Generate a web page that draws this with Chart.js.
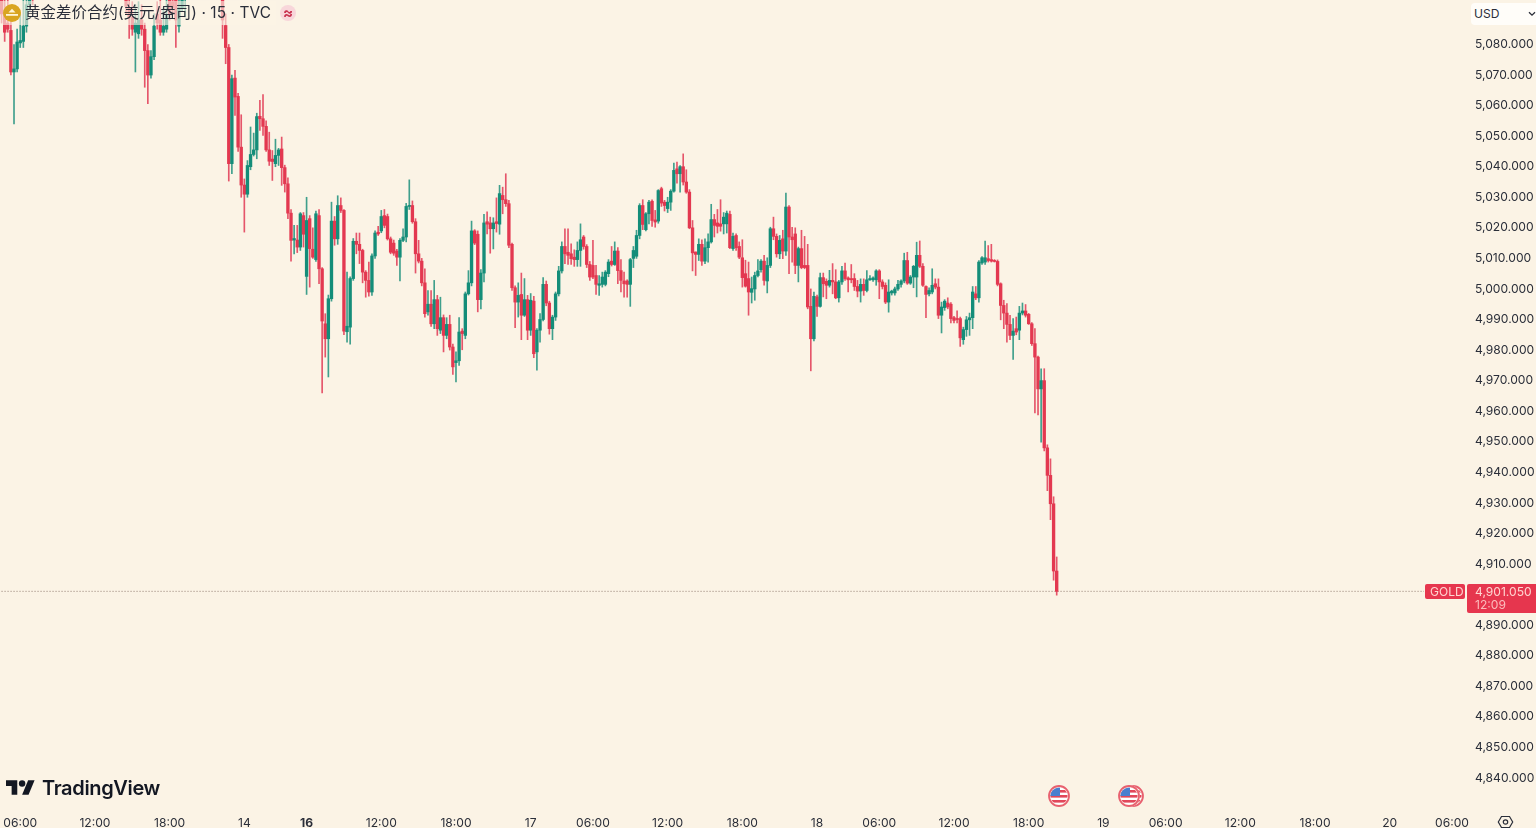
<!DOCTYPE html>
<html lang="zh">
<head>
<meta charset="utf-8">
<title>黄金差价合约(美元/盎司)</title>
<script src="https://cdn.jsdelivr.net/npm/chart.js@4"></script>
<style>
html,body{margin:0;padding:0;background:#fbf3e5;width:1536px;height:828px;overflow:hidden}
#wrap{position:relative;width:1536px;height:828px;font-family:Inter,"Noto Sans CJK SC",sans-serif}
canvas{position:absolute;left:0;top:0;filter:blur(.35px)}
.ov{position:absolute;white-space:nowrap}
#hdrbg{left:0;top:1px;width:276px;height:24px;background:rgba(251,243,229,.62)}
#title{left:25px;top:3px;font-size:15.4px;line-height:20px;color:#2a2e39;font-family:Inter,"Noto Sans CJK SC",sans-serif;letter-spacing:.1px}
#wave{left:280px;top:5px;width:16px;height:16px;border-radius:50%;background:#f8d6da;color:#c9324f;font-size:15px;line-height:16px;text-align:center;font-weight:700}
#usd{left:1471px;top:3px;width:65px;height:22px;background:#fffdf9;border-radius:4px 0 0 4px}
#usdt{left:1474px;top:6px;font-size:12.1px;line-height:16px;color:#2a2e39}
#brand{left:42px;top:775px;font-size:20px;line-height:26px;font-weight:600;color:#131722;letter-spacing:-.35px}
</style>
</head>
<body>
<div id="wrap">
<canvas id="c" width="1536" height="828"></canvas>
<div class="ov" id="hdrbg"></div>
<svg class="ov" style="left:3px;top:4px" width="18" height="18" viewBox="0 0 18 18"><circle cx="9" cy="9" r="9" fill="#d9a520"/><path d="M5.5 8.5 9 4.8l3.5 3.7z" fill="#fff6d8"/><rect x="3" y="10" width="12" height="1.8" fill="#fff6d8"/></svg>
<div class="ov" id="title">黄金差价合约(美元/盎司) · 15 · TVC</div>
<div class="ov" id="wave">≈</div>
<div class="ov" id="usd"></div>
<div class="ov" id="usdt">USD</div>
<svg class="ov" style="left:1528px;top:11px" width="8" height="6" viewBox="0 0 8 6"><path d="M1 1.2 4 4.2 7 1.2" fill="none" stroke="#2a2e39" stroke-width="1.3"/></svg>
<svg class="ov" style="left:6px;top:780px" width="29" height="15" viewBox="0 4 36 18"><path d="M14 22H7V11H0V4h14v18z" fill="#131722"/><circle cx="20" cy="8" r="4" fill="#131722"/><path d="M28 22h-8l7.5-18h8L28 22z" fill="#131722"/></svg>
<div class="ov" id="brand">TradingView</div>
<svg class="ov" style="left:1046px;top:783px" width="100" height="26" viewBox="0 0 100 26">
<defs><clipPath id="fc"><circle cx="0" cy="0" r="8.6"/></clipPath>
<g id="flag"><circle r="11" fill="#fbf3e5"/><circle r="10" fill="#fbf3e5" stroke="#e8606f" stroke-width="1.8"/><g clip-path="url(#fc)"><rect x="-9" y="-9" width="18" height="18" fill="#fff"/><rect x="-9" y="-1" width="18" height="2.6" fill="#e2475a"/><rect x="-9" y="4" width="18" height="2.6" fill="#e2475a"/><rect x="-9" y="-6" width="18" height="2.6" fill="#e2475a"/><rect x="-9" y="-9" width="10" height="9" fill="#4a7fd0"/></g></g></defs>
<use href="#flag" x="87" y="13"/><use href="#flag" x="83" y="13"/><use href="#flag" x="13" y="13"/>
</svg>
<svg class="ov" style="left:1497px;top:815px" width="17" height="13" viewBox="0 0 17 13"><path d="M4.5 1.5h8l3.2 5.5-3.2 5.5h-8L1.3 7z" fill="none" stroke="#2a2e39" stroke-width="1.2"/><circle cx="8.5" cy="7" r="2.2" fill="none" stroke="#2a2e39" stroke-width="1.2"/></svg>
</div>
<script>
const opens=[
5095,5090,5087,5084.6,5071,5072,5080.5,5081,5086,5093,
5097,5096,5099,5103,5101,5106,5109,5107,5112,5115,
5113,5110,5114,5118,5116,5112,5115,5119,5117,5113,
5110,5112,5108,5111,5114,5110,5107,5109,5105,5102,
5098,5092,5089,5084,5083.5,5088,5085,5078,5070,5076,
5090,5088,5084,5085,5097,5094,5096,5086,5092,5097,
5099,5102,5105,5103,5106,5110,5108,5111,5114,5112,
5108,5100,5086.2,5079,5041,5069,5063,5046.4,5034,5031,
5040,5044,5045.5,5056.5,5055.7,5053.2,5045.5,5042.5,5041,5043.7,
5045.8,5039.7,5034.4,5024.8,5016,5016,5013.7,5024,5004.1,5023,
5013,5009.6,5024,5006.6,4988.6,4983.7,4996.8,5022.2,5016.4,5027.3,
5025.7,4986,4987.5,5003.4,5015.6,5014.6,5012.6,5005.5,5002.8,4999,
5010.8,5018.6,5019,5024,5023.7,5016.4,5015,5012.4,5010.4,5015.9,
5017,5027,5027.3,5022,5011.5,5009.1,5002,4992.5,4995,4988.6,
4996.5,4986.5,4990.6,4984.8,4988.4,4981,4975.9,4976.5,4986.2,4984.8,
4998.4,5002,5019,5017.9,4996.5,5005.2,5022,5021.6,5019.7,5022,
5021.2,5030.6,5029.2,5027.9,5014.6,5000.4,4995.7,4998.2,4991.4,4996.5,
4986.5,4996,4979.4,4986.5,4990,5001.5,4995.4,4987,4990.8,4998.4,
5005.9,5013.9,5012,5011.5,5010.4,5009.6,5012.6,5017,5013.9,5008,
5007.7,5004.4,5001.2,5001.5,5001.5,5005,5009.1,5008,5012.4,5006,
5002.6,5002.6,5001.5,5010,5010.7,5017.5,5027.3,5019.4,5024.6,5028.7,
5022.6,5022.2,5032.8,5028.4,5026.3,5028.4,5032,5039.3,5037.7,5040,
5035,5031.7,5020,5012.1,5011.3,5014.6,5009.1,5013.5,5015.4,5022.7,
5021.6,5021.3,5021.3,5021.3,5024.4,5013.2,5017.5,5013.9,5010.2,5005,
5003.4,4998.9,5000,5004.4,5006.3,5009.1,5002.6,5007.7,5019.7,5017.2,
5011.5,5016.4,5012.4,5026.8,5017,5018,5007.7,5013.2,5007.7,5007.7,
4994.3,4983.7,4997.4,4994.3,5003.7,5002.5,5001.2,5002.8,5002.3,4997.1,
5002.3,5005.9,5003.6,5003.4,5003.4,5000.8,4999.3,5001.5,4999.5,5003,
5003,5003,5005.9,5002.3,5001.2,4995.7,4998.7,4998.7,5000,5001.5,
5002.6,5009.3,5001.9,5003.9,5003.9,5011,5007.4,5000.8,4998.4,4999,
5001.7,5000.6,4991.4,4993.9,4995.4,4995,4990.6,4990.3,4990.3,4983.4,
4986.7,4989.9,4990.6,4998.4,4997.1,5008.5,5008.8,5009.9,5009.6,5009.3,
5009,5001.7,4994.6,4992.1,4988.4,4984.8,4987,4986.5,4992.1,4992.8,
4991.7,4988.6,4982.1,4977.7,4967.3,4970,4948,4939,4929.7,4907.7];
const closes=[
5090,5084,5085,5071,5072,5080.8,5081.3,5086,5093,5097,
5096,5099,5103,5101,5106,5109,5107,5112,5115,5113,
5110,5114,5118,5116,5112,5115,5119,5117,5113,5110,
5112,5108,5111,5114,5110,5107,5109,5105,5102,5098,
5092.5,5089,5085,5087,5088,5085,5078,5070,5076,5086,
5087,5084,5086,5089.5,5090,5092,5088,5092,5097,5099,
5102,5105,5103,5106,5110,5108,5111,5114,5112,5108,
5100,5088,5079,5041,5068.8,5062.8,5046.4,5034,5031,5040.4,
5044,5045.5,5056.4,5055.7,5053.2,5045.5,5041.8,5041.7,5043.7,5045.5,
5039.7,5034.4,5024.8,5015.9,5016.5,5013.7,5024.6,5017.9,5022.4,5013.2,
5010.4,5024.6,5006.6,4989.5,4983.7,4996.8,5022.2,5016.4,5027.3,5025.7,
4986.2,4987.8,5003.4,5015.6,5014.6,5012.6,5005.5,5002.8,4999,5010.8,
5018.3,5018,5023.7,5020.8,5016.4,5012,5011.7,5010.4,5015.9,5017,
5027,5027.3,5022,5011.5,5009.1,5002,4991.9,4995,4988.6,4996.5,
4987,4990.6,4984.8,4988.4,4981,4974.5,4976.5,4985.9,4985.4,4998.4,
5002,5019,5015,4996.5,5005.2,5021.6,5021.2,5019.7,5021.6,5021.4,
5031.2,5029.2,5027.9,5014.3,5000.4,4995.7,4997.9,4991.4,4996.5,4986.5,
4996.3,4978.8,4986.5,4990,5001.5,4995.4,4987,4990.8,4998.4,5005.9,
5013.9,5011.5,5011,5009.9,5009.6,5012.6,5016.1,5013.9,5008,5003.9,
5003.9,5001.5,5001.7,5003.9,5005.5,5008.8,5008,5012.4,5006,5002.8,
5001.7,5001.5,5009.6,5012.6,5017.5,5027.3,5021.1,5024.6,5028.4,5022.4,
5021.9,5032.2,5028.1,5027.3,5028.4,5032,5038.8,5037.7,5040,5035,
5031.7,5020,5011.8,5011.3,5014.6,5009.1,5013.5,5015.4,5022.7,5020.8,
5020.5,5020.5,5023.5,5024.8,5013.5,5017.2,5013.5,5010.4,5003.7,5000.9,
4999,5000.1,5004.4,5005.9,5009.1,5002.8,5007.7,5019.7,5017.2,5011.5,
5015.9,5012.4,5026.8,5017,5016.1,5007.7,5013.2,5007,5007,4994.1,
4983.7,4997.6,4994.3,5003.7,5001.7,5001.2,5002.8,5002.3,4997.1,5002.3,
5005.9,5003.4,5003,5003,5000.8,4999.3,5001.5,4999.5,5003,5003.4,
5003.6,5005.9,5002.3,5000.8,4995.7,4999,4999.3,5000,5001.5,5002.6,
5009.3,5001.9,5003.9,5007.4,5011,5007.4,5001.2,4998.2,4999.5,5001.2,
5000.6,4991.4,4994.1,4996,4994.1,4990.3,4989.7,4990,4984,4986.7,
4989.9,4990.6,4999,4997.1,5008.8,5010.2,5010.2,5009.3,5009.1,5009,
5001.5,4994.6,4992.1,4988.4,4984.8,4986.2,4985.9,4992.1,4992.8,4991.4,
4988.6,4982.1,4977.7,4967.3,4970,4948,4939,4929.7,4907.7,4901.05];
const highs=[
5102,5096,5097,5088,5080,5085,5090,5095,5098,5100,
5101,5102,5106,5105,5109,5112,5111,5115,5118,5117,
5116,5116,5120,5121,5118,5116,5121,5122,5119,5115,
5114,5114,5113,5116,5116,5112,5111,5111,5107,5104,
5103,5096,5094,5093,5094,5093,5087,5080,5078,5090,
5094,5096,5092,5097,5100,5098,5100,5097,5103,5104,
5104,5107,5108,5108,5112,5112,5113,5116,5116,5114,
5110,5104,5090,5080,5070,5071.5,5064,5057,5036,5042,
5053,5051,5057.5,5061.7,5063.6,5055,5051.3,5045.3,5049,5046,
5049.7,5040.5,5036.4,5026,5020.8,5020.8,5025,5025,5030,5024,
5020,5025.5,5026,5007,4991.9,4998,5028.4,5023.7,5030.5,5029.8,
5026,5005.5,5004,5016.5,5018.3,5018.3,5013,5006,5008.8,5011.5,
5019,5020.5,5025.7,5026,5024.5,5017,5016,5013,5016.5,5019.7,
5028,5035.7,5028.8,5023,5015.9,5010,5006.6,4999.5,4999.5,5002.8,
4997.9,4997.3,4991.5,4990.6,4991.4,4982,4979.4,4990.6,4987,4999,
5006,5022.2,5019.4,5019,5006.3,5024.4,5025.2,5023.5,5023.3,5029.8,
5033.9,5033.3,5037.7,5029,5015,5001,5002,5005.2,5003.4,4997.9,
4998.5,4997.6,4987,4991.9,5003.7,5002.6,4996,4991.4,4999,5007.4,
5015.4,5019.7,5019.7,5014.8,5012.8,5015.4,5021.3,5017.5,5014.5,5009,
5015.9,5007.7,5004.4,5005.5,5006,5009.6,5013.9,5015.4,5013.5,5009.6,
5005.5,5003,5010,5013.9,5019.2,5027.9,5029.2,5025,5029,5029.2,
5025.7,5032.5,5033.3,5029,5030,5032.5,5041.2,5041.5,5040.4,5044.2,
5039,5032.5,5022.4,5012.1,5016.4,5016.1,5016.4,5018,5027.7,5024.4,
5026,5029.2,5025,5025.5,5025.5,5018.3,5018,5015.4,5016.1,5009.4,
5008.8,5003.9,5005.5,5009.6,5009.6,5011,5010.2,5020.2,5023.5,5018,
5017.5,5019.2,5031.4,5027.3,5020.2,5020,5013.7,5019.2,5017.2,5014.6,
5000,4999,4998,5005.2,5005.2,5003.3,5006.1,5008.3,5006.3,5002.8,
5007.4,5008.5,5004,5008,5005,5002.8,5003.3,5003.3,5006,5004.4,
5004,5006.3,5006.3,5003,5002,5003,4999.6,5000.6,5002.8,5003,
5011.7,5012,5004.4,5007.7,5015.3,5015.7,5008.3,5001,5000.4,5006.6,
5003.3,5003.3,4995.7,4996.5,4997.1,4995.5,4991,4992.8,4990.8,4987.5,
4991,4992.1,5000.8,5000.8,5009.3,5010.6,5015.7,5014.2,5014.6,5009.6,
5009.5,5002,4996.3,4995.2,4991.4,4990.3,4990.8,4994.3,4995.4,4994.9,
4992,4989,4987,4978,4973.9,4973.9,4949,4944.4,4932,4912.3];
const lows=[
5087,5081,5084,5070,5054,5071,5079,5079,5084,5091,
5093,5095,5098,5099,5100,5105,5105,5106,5111,5111,
5108,5108,5112,5114,5110,5110,5113,5115,5111,5108,
5107,5106,5105,5109,5108,5105,5105,5103,5100,5096,
5090,5082,5083,5071,5082,5083,5066,5060.6,5069,5075,
5085,5083,5083,5084,5088,5090,5079,5084,5091,5089,
5097,5100,5101,5101,5104,5106,5106,5109,5110,5106,
5096,5082,5073.7,5035.3,5037.7,5056.8,5045,5030,5018.6,5030,
5039,5043.5,5042.6,5051.9,5050.2,5045,5040.4,5035.5,5040,5040.4,
5033.9,5031.7,5023,5009.1,5011.5,5011.9,5012.6,5013.7,4998.2,5000.6,
5010,5009,5001.7,4966,4977.7,4971.2,4996,5014.3,5014.6,5025,
4985,4982.6,4981.9,5002.8,5011.5,5008.3,5002,4997.3,4997.6,4997.9,
5010,5017.5,5018.4,5020,5016,5011.5,5011,5007.7,5002.6,5015.5,
5015.4,5026,5021.5,5005.2,5008.5,5001,4990.8,4991.4,4987.7,4987,
4984.8,4985.4,4979.4,4983.7,4980,4972,4969.6,4975,4980.1,4983.7,
4998,5001,5014.5,4992.5,4993.5,5002.3,5018,5011.7,5013.1,5018.6,
5017.9,5024.6,5027,5013.5,4999.5,4987.3,4990.8,4983.4,4991,4983.4,
4984.8,4977.5,4973.4,4982.6,4989.5,4994.5,4985.2,4983.4,4989.7,4997.7,
5005.2,5008.3,5008,5008,5007.4,5007.4,5007.4,5013,5007,5002.8,
5003.4,4998.2,4997.9,5000.6,5001,5004,5007.5,5007.7,5001.7,4999,
4997.3,4997.3,4994.3,5007,5010,5016.4,5019.4,5019,5021.3,5020.5,
5020.2,5021.5,5027,5025.5,5025,5025.7,5031.7,5034.6,5031.7,5034,
5031.3,5019.7,5005.9,5004.4,5009.3,5007.7,5008.3,5008.8,5015,5017,
5018.3,5018.9,5018,5018.3,5013.2,5012.6,5012.6,5009.9,5000.6,5000.6,
4991.4,4995.4,4996.3,5003.9,5005.5,5001.2,4998.7,5007,5016.1,5010.4,
5009.9,5009.9,5011,5005,5008.8,5005,5002.3,5006.6,5006.6,4993.5,
4973.2,4983,4991,4994,4997.4,4996.8,5000.6,4998.4,4996.8,4995.7,
5001.5,5002.8,4999,5002,4999.5,4997.4,4995.7,4997.9,4999,5002.8,
5002.5,5001.2,4996.8,5000,4995.2,4992.4,4998,4998,4999.5,5000.6,
5002,5001.5,5001.5,5000.4,4997.4,5007,5000.8,4990.6,4997.7,4998.4,
5000,4990.3,4985.6,4993,4993.5,4988.9,4988.9,4988.9,4981.2,4981.9,
4984.5,4984.8,4987,4996.5,4995.7,5008,5008,5008.8,5008.8,5008.8,
5001,4989.9,4987,4982.6,4983.4,4976.9,4985,4983.4,4991.5,4990.8,
4988.4,4981.5,4959.4,4958.8,4949.9,4947,4934,4924.5,4904.7,4899.8];

const timeTickSlots=[6,30,54,78,98,122,146,170,190,214,238,262,282,306,330,354,374,398,422,446,466];
const timeTickLabels=["06:00","12:00","18:00","14","16","12:00","18:00","17","06:00","12:00","18:00","18","06:00","12:00","18:00","19","06:00","12:00","18:00","20","06:00"];
const boldTimeTicks=["16"];
const priceTicks=[4840,4850,4860,4870,4880,4890,4910,4920,4930,4940,4950,4960,4970,4980,4990,5000,5010,5020,5030,5040,5050,5060,5070,5080];
const lastPrice=4901.05;
const symbolTag="GOLD";
const priceTag="4,901.050";
const countdownTag="12:09";

const SLOTS=471, LINE_END_SLOT=457;
const UP="#148d79", DOWN="#e33850", UP_WICK="#3f9f8c", DOWN_WICK="#e5556a";
const labels=Array.from({length:SLOTS},()=>"");
timeTickSlots.forEach((s,i)=>{labels[s]=timeTickLabels[i]});
const isUp=opens.map((o,i)=>closes[i]>=o);
const FONT='Inter, "Noto Sans CJK SC", sans-serif';
function zeroPad(s){s.paddingLeft=0;s.paddingRight=0;s.paddingTop=0;s.paddingBottom=0}

const lastTagPlugin={
  id:"lastTag",
  afterDraw(chart){
    const {ctx,scales:{y}}=chart;
    const py=Math.ceil(y.getPixelForValue(lastPrice));
    ctx.save();
    ctx.fillStyle="#e6364e";
    ctx.beginPath();ctx.roundRect(1425,py-8,40,15,2);ctx.fill();
    ctx.beginPath();ctx.roundRect(1467,py-8,69,29,[2,0,0,2]);ctx.fill();
    ctx.fillStyle="#ffd5d0";
    ctx.font="12px "+FONT;ctx.textBaseline="middle";ctx.textAlign="left";
    ctx.fillText(symbolTag,1430,py);
    ctx.font="12.1px "+FONT;
    ctx.fillText(priceTag,1475,py);
    ctx.fillStyle="#fbbcbc";
    ctx.fillText(countdownTag,1475,py+13);
    ctx.restore();
  }
};

new Chart(document.getElementById("c"),{
  type:"bar",
  data:{labels,datasets:[
    {type:"line",order:3,data:labels.map((_,i)=>i<=LINE_END_SLOT?lastPrice:null),borderColor:"#8f7a6e",borderWidth:1,borderDash:[1,2],pointRadius:0,fill:false,spanGaps:false},
    {order:2,grouped:false,barThickness:1,data:opens.map((_,i)=>[lows[i],highs[i]]),backgroundColor:isUp.map(u=>u?UP_WICK:DOWN_WICK),borderWidth:0},
    {order:1,grouped:false,barThickness:2.7,data:opens.map((o,i)=>[o,closes[i]]),backgroundColor:isUp.map(u=>u?UP:DOWN),borderWidth:0,minBarLength:1}
  ]},
  options:{
    responsive:false,animation:false,events:[],
    layout:{padding:0},
    plugins:{legend:{display:false},title:{display:false},tooltip:{enabled:false}},
    scales:{
      x:{type:"category",offset:true,grid:{display:false,drawTicks:false},border:{display:false},
        afterFit(s){s.height=18;zeroPad(s)},
        ticks:{autoSkip:false,maxRotation:0,minRotation:0,padding:6,color:"#2a2e39",
          font(c){return {family:FONT,size:12.1,weight:boldTimeTicks.includes(c.tick&&c.tick.label)?"700":"400"}},
          callback(v,i){return labels[i]}}},
      y:{position:"right",min:4829.5,max:5094.55,grid:{display:false,drawTicks:false},border:{display:false},
        afterFit(s){s.width=70;zeroPad(s)},
        afterBuildTicks(s){s.ticks=priceTicks.map(value=>({value}))},
        ticks:{padding:9,color:"#2a2e39",font:{family:FONT,size:12.1},
          callback(v){return v.toLocaleString("en-US",{minimumFractionDigits:3,maximumFractionDigits:3})}}}
    }
  },
  plugins:[lastTagPlugin]
});
</script>
</body>
</html>
